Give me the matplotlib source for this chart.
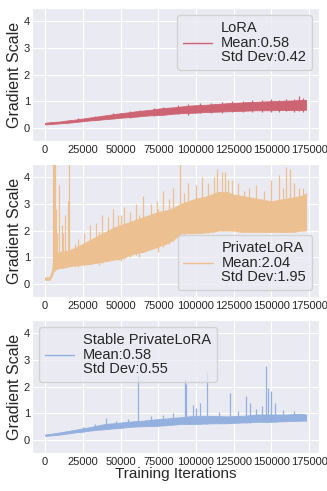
"""
Gradient scale over training for LoRA, PrivateLoRA and Stable PrivateLoRA.
"""

import matplotlib
matplotlib.use('Agg')
import matplotlib.pyplot as plt
import seaborn as sns

# band of the noisy trace (lower / upper edge) read every 5000 iterations
knot_x = [0, 5000, 10000, 15000, 20000, 25000, 30000, 35000, 40000, 45000,
          50000, 55000, 60000, 65000, 70000, 75000, 80000, 85000, 90000, 95000,
          100000, 105000, 110000, 115000, 120000, 125000, 130000, 135000,
          140000, 145000, 150000, 155000, 160000, 165000, 170000, 173000]

lora_lo = [0.13, 0.15, 0.17, 0.19, 0.22, 0.25, 0.28, 0.30, 0.33, 0.35,
           0.38, 0.40, 0.42, 0.45, 0.47, 0.48, 0.50, 0.53, 0.55, 0.56,
           0.57, 0.59, 0.60, 0.61, 0.62, 0.63, 0.64, 0.65,
           0.66, 0.66, 0.66, 0.67, 0.67, 0.67, 0.67, 0.68]
lora_hi = [0.19, 0.22, 0.24, 0.28, 0.31, 0.35, 0.39, 0.43, 0.47, 0.51,
           0.55, 0.58, 0.62, 0.65, 0.68, 0.72, 0.75, 0.77, 0.80, 0.83,
           0.85, 0.86, 0.88, 0.90, 0.92, 0.94, 0.95, 0.97,
           0.98, 0.99, 1.00, 1.01, 1.02, 1.03, 1.05, 1.05]
lora_spk_x = [22000, 33000, 45000, 56000, 63000, 72000, 78000, 88000, 95000,
              103000, 110000, 117000, 124000, 131000, 137000, 144000, 150000,
              155000, 160000, 165000, 168000, 171000]
lora_spk_lo = [0.24, 0.29, 0.36, 0.38, 0.43, 0.44, 0.48, 0.52, 0.50,
               0.55, 0.56, 0.56, 0.58, 0.58, 0.60, 0.58, 0.60,
               0.60, 0.62, 0.58, 0.62, 0.60]
lora_spk_hi = [0.36, 0.45, 0.55, 0.62, 0.66, 0.74, 0.78, 0.85, 0.88,
               0.93, 0.95, 0.98, 1.00, 1.02, 1.03, 1.05, 1.08,
               1.06, 1.08, 1.10, 1.20, 1.12]

priv_x = [0, 3000, 4500, 6000, 10000, 15000, 20000, 25000, 30000, 35000,
          40000, 45000, 50000, 55000, 60000, 65000, 70000, 75000, 80000,
          85000, 90000, 95000, 100000, 105000, 110000, 115000, 120000,
          125000, 130000, 135000, 140000, 145000, 150000, 155000, 160000,
          165000, 170000, 173000]
priv_lo = [0.15, 0.15, 0.30, 0.55, 0.60, 0.65, 0.70, 0.72, 0.75, 0.80,
           0.85, 0.90, 0.95, 1.05, 1.15, 1.20, 1.30, 1.40, 1.50,
           1.65, 1.90, 1.90, 1.90, 1.92, 1.95, 2.00, 2.00,
           2.00, 1.95, 1.95, 1.95, 1.95, 1.95, 1.95, 1.95,
           1.95, 2.00, 2.00]
priv_hi = [0.25, 0.25, 0.50, 1.10, 1.20, 1.25, 1.35, 1.50, 1.65, 1.80,
           1.95, 2.10, 2.20, 2.30, 2.40, 2.50, 2.60, 2.70, 2.75,
           2.85, 3.00, 3.10, 3.20, 3.25, 3.35, 3.45, 3.45,
           3.35, 3.30, 3.25, 3.20, 3.15, 3.10, 3.15, 3.20,
           3.25, 3.30, 3.40]
priv_spk_x = [5500, 6000, 6500, 7000, 8000, 9500, 11000, 12000, 13000,
              15000, 16000, 20000, 22000, 26000, 30000, 34000, 36000, 38000,
              42000, 45000, 48000, 50000, 52000, 56000, 60000, 62000, 65000,
              70000, 74000, 75000, 78000, 82000, 85000, 89500, 92000, 95000,
              100000, 104000, 108000, 112000, 114000, 117000, 119000, 121000,
              124000, 128000, 132000, 135000, 140000, 145000, 150000, 155000,
              158000, 160000, 162000, 165000, 168000, 171000]
priv_spk_lo = [0.50, 0.50, 0.50, 0.55, 0.55, 0.60, 0.60, 0.60, 0.60,
               0.65, 0.65, 0.62, 0.65, 0.70, 0.75, 0.78, 0.72, 0.80,
               0.85, 0.88, 0.90, 0.85, 0.95, 1.00, 1.10, 1.00, 1.20,
               1.30, 1.35, 1.20, 1.40, 1.50, 1.60, 1.80, 1.85, 1.90,
               1.90, 1.90, 1.90, 1.95, 2.00, 2.00, 2.00, 2.00,
               2.00, 1.95, 1.95, 1.95, 1.95, 1.95, 1.95, 1.95,
               1.95, 1.95, 1.95, 1.95, 2.00, 2.00]
priv_spk_hi = [4.60, 4.60, 4.60, 2.80, 1.90, 3.70, 2.20, 1.90, 2.60,
               3.10, 4.60, 1.50, 1.70, 1.90, 2.20, 2.30, 2.00, 2.60,
               2.50, 2.80, 2.60, 2.60, 2.90, 2.70, 3.00, 2.60, 3.30,
               3.00, 3.10, 2.80, 3.50, 3.20, 3.60, 4.50, 3.40, 3.80,
               3.70, 4.00, 3.80, 4.00, 4.30, 4.20, 4.20, 3.90,
               3.90, 3.80, 3.50, 3.60, 3.70, 3.50, 3.90, 4.10,
               3.60, 4.40, 4.30, 3.80, 3.60, 3.60]

stab_lo = [0.15, 0.17, 0.20, 0.24, 0.28, 0.31, 0.35, 0.38, 0.40, 0.43,
           0.45, 0.48, 0.50, 0.51, 0.52, 0.53, 0.55, 0.57, 0.60, 0.60,
           0.60, 0.61, 0.62, 0.62, 0.62, 0.64, 0.65, 0.66,
           0.68, 0.68, 0.68, 0.69, 0.70, 0.71, 0.72, 0.72]
stab_hi = [0.20, 0.24, 0.28, 0.33, 0.38, 0.43, 0.48, 0.54, 0.60, 0.62,
           0.65, 0.68, 0.70, 0.72, 0.75, 0.78, 0.80, 0.83, 0.85, 0.88,
           0.90, 0.90, 0.90, 0.89, 0.88, 0.89, 0.90, 0.92,
           0.95, 0.95, 0.95, 0.95, 0.95, 0.97, 0.98, 0.95]
stab_spk_x = [25000, 33000, 40400, 47000, 55000, 61900, 70000, 78000, 85000,
              92900, 93500, 97800, 100000, 102500, 107200, 115000, 122400,
              128000, 133100, 135800, 140000, 143800, 146500, 147800, 149900,
              152600, 158000, 165000]
stab_spk_lo = [0.30, 0.36, 0.45, 0.45, 0.50, 0.55, 0.52, 0.55, 0.60,
               0.60, 0.60, 0.60, 0.60, 0.60, 0.60, 0.62, 0.62,
               0.64, 0.65, 0.65, 0.68, 0.68, 0.68, 0.68, 0.68,
               0.68, 0.70, 0.71]
stab_spk_hi = [0.50, 0.60, 0.83, 0.72, 0.78, 2.39, 0.88, 0.95, 1.00,
               2.27, 2.10, 1.32, 1.20, 1.40, 2.55, 1.05, 1.77,
               1.10, 1.65, 1.40, 1.15, 1.28, 2.76, 1.93, 1.85,
               1.40, 1.12, 1.10]

labels = ['LoRA\nMean:0.58\nStd Dev:0.42',
          'PrivateLoRA\nMean:2.04\nStd Dev:1.95',
          'Stable PrivateLoRA\nMean:0.58\nStd Dev:0.55']
colors = ['#CD6473', '#ECC091', '#93B0DE']
legend_locs = ['upper right', 'lower right', 'upper left']

series = [(knot_x, lora_lo, lora_hi, lora_spk_x, lora_spk_lo, lora_spk_hi),
          (priv_x, priv_lo, priv_hi, priv_spk_x, priv_spk_lo, priv_spk_hi),
          (knot_x, stab_lo, stab_hi, stab_spk_x, stab_spk_lo, stab_spk_hi)]

sns.set_style('darkgrid')
plt.rcParams['font.family'] = ['Liberation Sans', 'DejaVu Sans']

fig, axes = plt.subplots(3, 1, figsize=(3.27, 4.91), dpi=100)
fig.subplots_adjust(left=0.098, right=0.976, top=0.984, bottom=0.077, hspace=0.17)

for ax, (x, lo, hi, sx, slo, shi), lab, c, loc in zip(
        axes, series, labels, colors, legend_locs):
    ax.fill_between(x, lo, hi, color=c, linewidth=0.6)
    ax.vlines(sx, slo, shi, color=c, linewidth=0.9)
    ax.plot([], [], color=c, linewidth=1.0, label=lab)
    ax.set_ylim(-0.5, 4.5)
    ax.set_xlim(-8650, 181650)
    ax.set_yticks([0, 1, 2, 3, 4])
    ax.set_xticks([0, 25000, 50000, 75000, 100000, 125000, 150000, 175000])
    ax.tick_params(labelsize=8, length=0)
    ax.tick_params(axis='y', pad=1.5)
    ax.tick_params(axis='x', pad=3)
    ax.set_ylabel('Gradient Scale', fontsize=11.5, labelpad=1.5)
    leg = ax.legend(loc=loc, fontsize=10.5, handlelength=2.0, labelspacing=0.1,
                    borderpad=0.4, handletextpad=0.6)
    for t in leg.get_texts():
        t.set_linespacing(1.05)

axes[2].set_xlabel('Training Iterations', fontsize=11, labelpad=0)

plt.savefig('out.png', dpi=100)
